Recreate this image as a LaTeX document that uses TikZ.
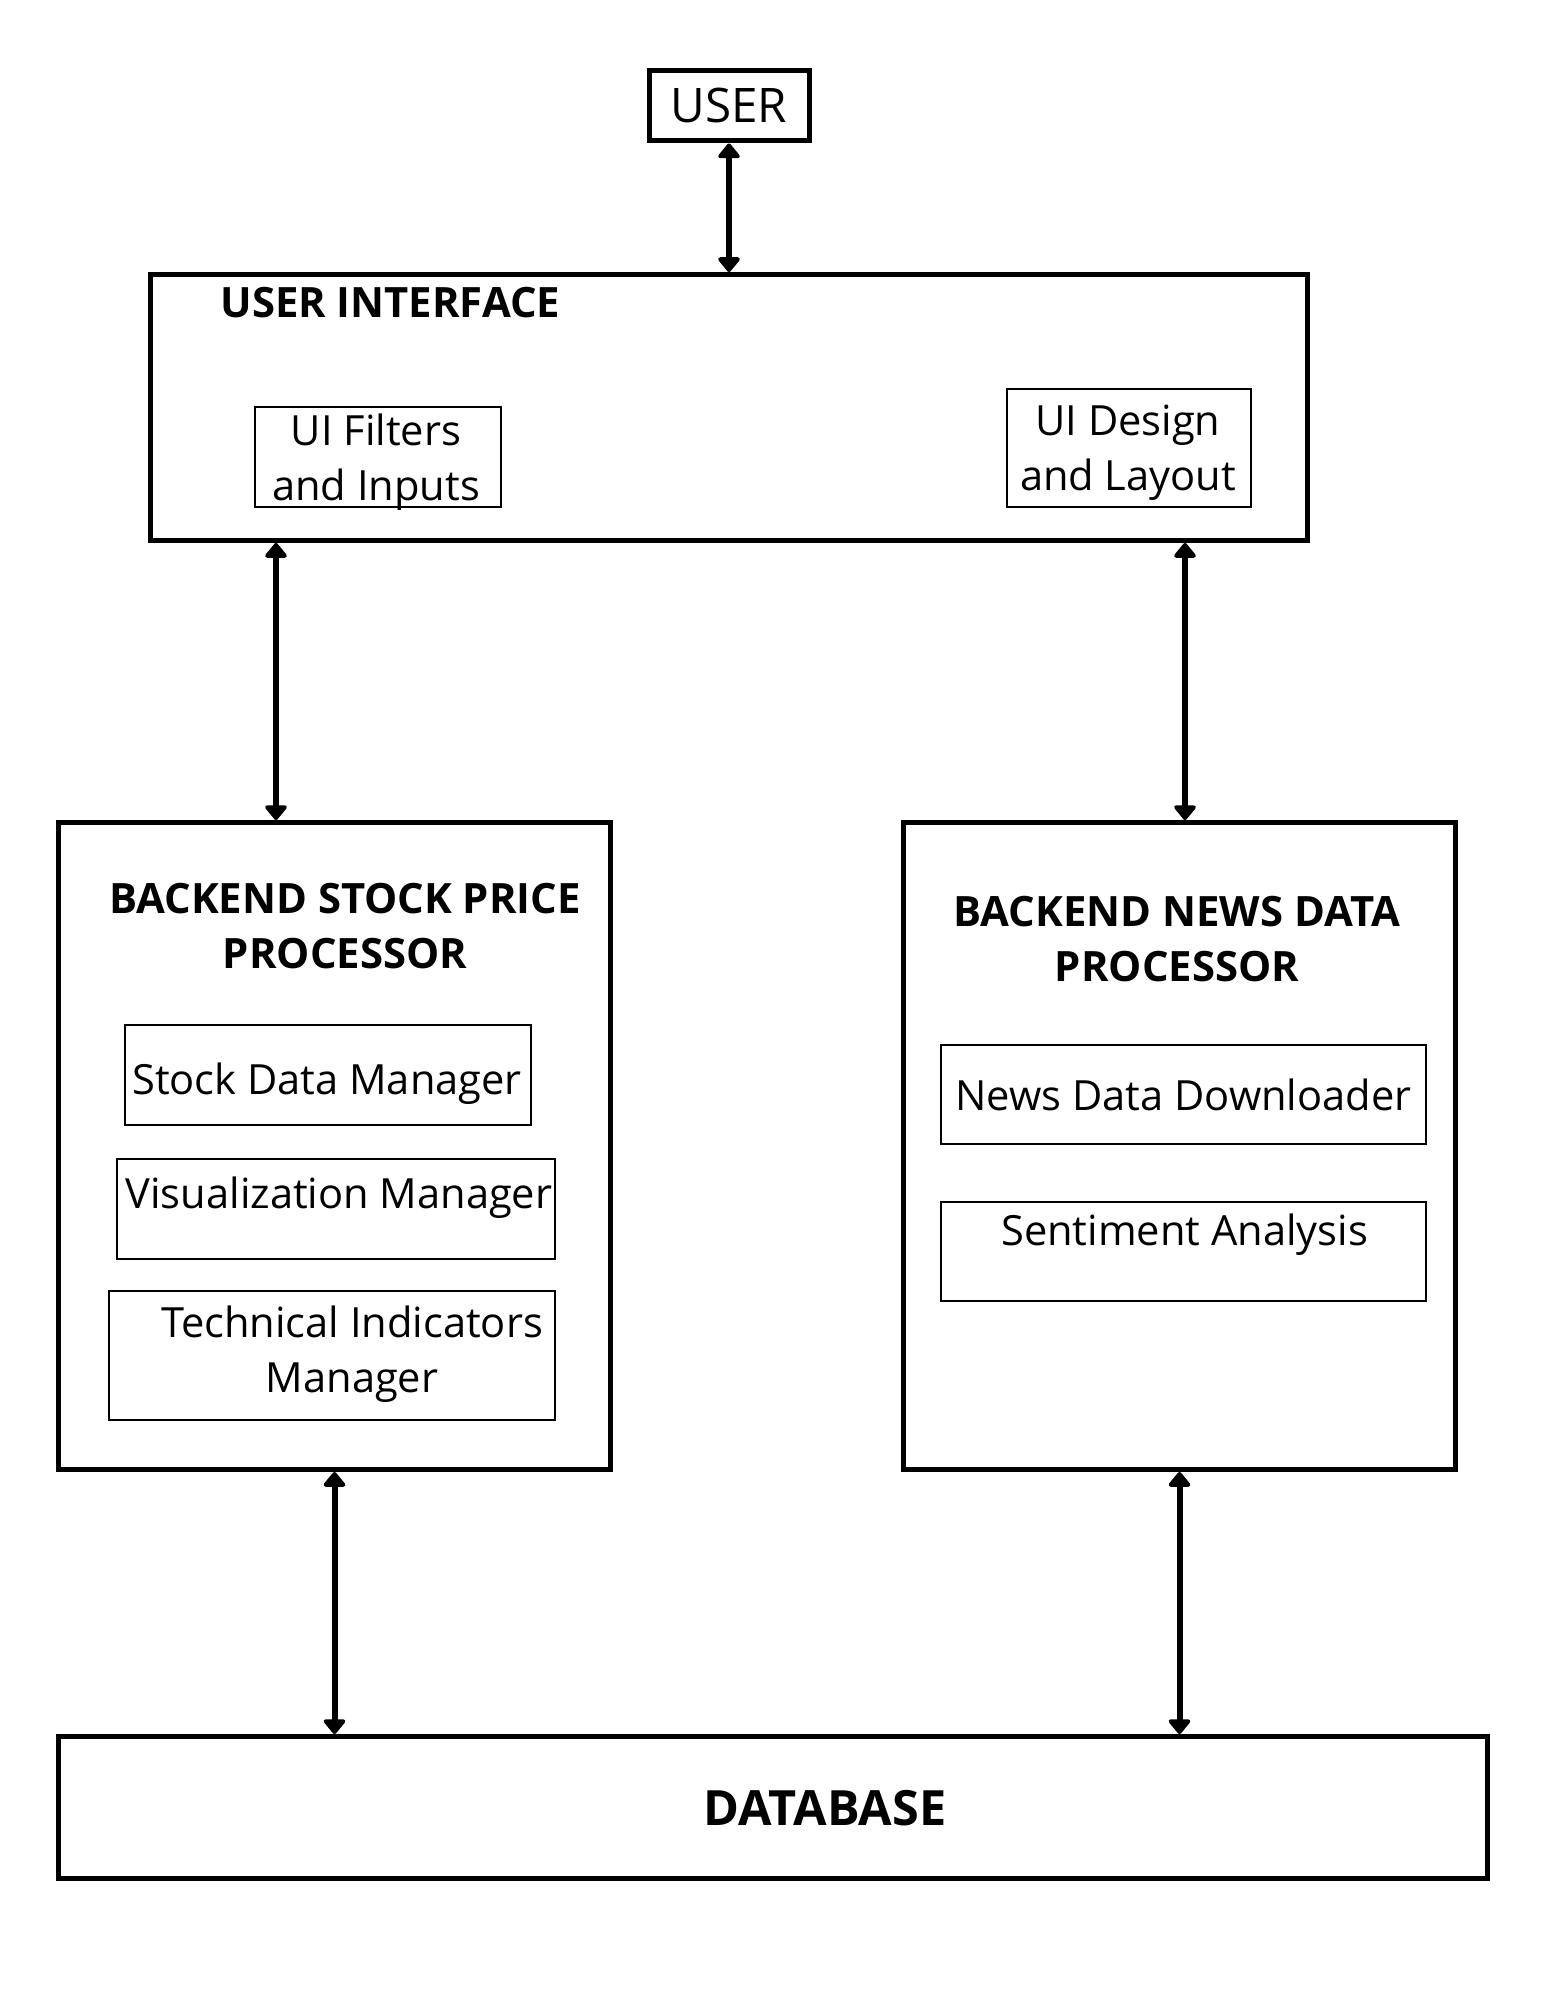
\documentclass[tikz,border=0pt]{standalone}
\usepackage{fontspec}
\setmainfont{Open Sans}
\usetikzlibrary{arrows.meta}

\begin{document}
\begin{tikzpicture}[x=0.5pt,y=-0.5pt,
  bigbox/.style={draw,line width=2.5pt,inner sep=0pt},
  subbox/.style={draw,line width=0.9pt,inner sep=0pt,align=center,font=\fontsize{20.8}{27.5}\selectfont},
  plain/.style={inner sep=0pt,align=center,font=\fontsize{20.8}{27.5}\selectfont},
  heading/.style={inner sep=0pt,align=center,font=\bfseries\fontsize{20.9}{27.5}\selectfont},
  biarrow/.style={line width=3pt,{Triangle[width=12.5pt,length=8pt,round]}-{Triangle[width=12.5pt,length=8pt,round]}}]
\useasboundingbox (0,0) rectangle (1545,2000);

\node[bigbox,minimum width=80pt,minimum height=35pt,font=\fontsize{23.8}{27}\selectfont] (user) at (729,106) {USER};

\node[bigbox,minimum width=578.5pt,minimum height=133pt] (ui) at (729,407.5) {};
\node[heading,anchor=base west] (uititle) at (220,318) {USER INTERFACE};
\node[subbox,minimum width=123pt,minimum height=50pt] (filters) at (378,457) {};
\node[plain] at (376,462) {UI Filters\\and Inputs};
\node[subbox,minimum width=122pt,minimum height=59pt] (design) at (1129,448) {};
\node[plain] at (1128,453) {UI Design\\and Layout};

\node[bigbox,minimum width=276pt,minimum height=323.5pt] (stock) at (334.5,1146) {};
\node[heading] (stocktitle) at (345,926.5) {BACKEND STOCK PRICE\\PROCESSOR};
\node[subbox,minimum width=203pt,minimum height=50pt] (stockmgr) at (328,1075) {};
\node[plain] at (327,1084) {Stock Data Manager};
\node[subbox,minimum width=219pt,minimum height=50pt] (vismgr) at (336,1209) {};
\node[plain] at (339,1198) {Visualization Manager};
\node[subbox,minimum width=223pt,minimum height=64.5pt] (techmgr) at (332,1355.5) {};
\node[plain] at (352,1354.5) {Technical Indicators\\Manager};

\node[bigbox,minimum width=276pt,minimum height=323.5pt] (news) at (1179.5,1146) {};
\node[heading] (newstitle) at (1177,939.5) {BACKEND NEWS DATA\\PROCESSOR};
\node[subbox,minimum width=242.5pt,minimum height=49.5pt] (newsdl) at (1183.5,1094.5) {News Data Downloader};
\node[subbox,minimum width=242.5pt,minimum height=49.5pt] (senti) at (1183.5,1251.5) {};
\node[plain] at (1184.5,1235) {Sentiment Analysis};

\node[bigbox,minimum width=714.5pt,minimum height=71pt] (db) at (773,1807.5) {};
\node[heading,font=\bfseries\fontsize{24.3}{27}\selectfont] (dbtitle) at (825,1808) {DATABASE};

\draw[biarrow] (user.south) -- (user.south |- ui.north);
\draw[biarrow] (ui.south -| 276,0) -- (stock.north -| 276,0);
\draw[biarrow] (ui.south -| 1185,0) -- (news.north -| 1185,0);
\draw[biarrow] (stock.south) -- (stock.south |- db.north);
\draw[biarrow] (news.south) -- (news.south |- db.north);
\end{tikzpicture}
\end{document}
